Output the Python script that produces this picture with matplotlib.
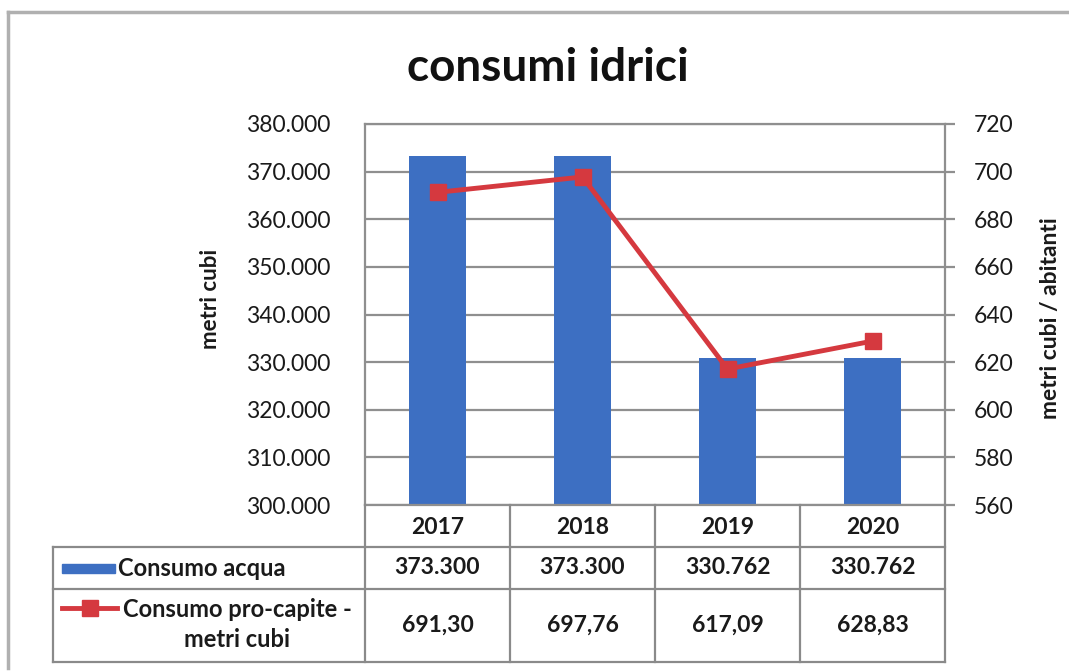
import matplotlib
matplotlib.use("Agg")
import matplotlib.pyplot as plt
from matplotlib.ticker import FuncFormatter, MultipleLocator
from matplotlib.lines import Line2D
from matplotlib.patches import Rectangle

# ---- data ----
years = ["2017", "2018", "2019", "2020"]
water = [373300, 373300, 330762, 330762]
per_capita = [691.30, 697.76, 617.09, 628.83]
water_labels = ["373.300", "373.300", "330.762", "330.762"]
per_capita_labels = ["691,30", "697,76", "617,09", "628,83"]
series_names = ["Consumo acqua", "Consumo pro-capite -\nmetri cubi"]
title = "consumi idrici"
ylabel_left = "metri cubi"
ylabel_right = "metri cubi / abitanti"

BLUE = "#3D6FC2"
RED = "#D5393F"
GRID = "#8f8f8f"
TXT = "#1a1a1a"
FONT = "Lato"

W, H = 1069, 672
fig = plt.figure(figsize=(W / 100, H / 100), dpi=100)
fig.patch.set_facecolor("white")


def fx(px):
    return px / W


def fy(py):
    return 1 - py / H


# outer frame (top + left)
fig.add_artist(Line2D([fx(8), fx(8)], [fy(12), fy(668)], transform=fig.transFigure,
                      color="#b0b0b0", lw=2.5))
fig.add_artist(Line2D([fx(8), fx(1069)], [fy(12), fy(12)], transform=fig.transFigure,
                      color="#b0b0b0", lw=2.5))

ax = fig.add_axes([fx(365), fy(505), fx(945) - fx(365), fy(124) - fy(505)])
x = list(range(len(years)))
ax.bar(x, water, width=0.39, color=BLUE, zorder=2)
ax.set_xlim(-0.5, len(years) - 0.5)
ax.set_ylim(300000, 380000)
ax.yaxis.set_major_locator(MultipleLocator(10000))
ax.yaxis.set_major_formatter(FuncFormatter(lambda v, p: f"{int(round(v)):,}".replace(",", ".")))
ax.grid(axis="y", color=GRID, lw=1.6, zorder=0)
ax.set_axisbelow(True)
ax.set_xticks([])
ax.tick_params(axis="y", length=0, pad=25, labelsize=16.5, labelcolor=TXT)
for lab in ax.get_yticklabels():
    lab.set_fontfamily(FONT)
for s in ax.spines.values():
    s.set_color(GRID)
    s.set_linewidth(1.6)
ax.set_ylabel(ylabel_left, fontsize=16, fontweight="bold", family=FONT, color=TXT)
ax.yaxis.set_label_coords((221 - 365) / (945 - 365), 0.54)

ax2 = ax.twinx()
ax2.plot(x, per_capita, color=RED, lw=3.5, marker="s", ms=11, zorder=3)
ax2.set_ylim(560, 720)
ax2.yaxis.set_major_locator(MultipleLocator(20))
ax2.tick_params(axis="y", direction="out", length=7, width=1.6, color=GRID, pad=14,
                labelsize=16.5, labelcolor=TXT)
for lab in ax2.get_yticklabels():
    lab.set_fontfamily(FONT)
for s in ax2.spines.values():
    s.set_visible(False)
ax2.set_ylabel(ylabel_right, fontsize=16.5, fontweight="bold", family=FONT, color=TXT,
               rotation=90)
ax2.yaxis.set_label_coords((1040 - 365) / (945 - 365), 0.49)

fig.text(fx(548), fy(68), title, ha="center", va="center", fontsize=33,
         fontweight="bold", family=FONT, color="#111111")

# ---- data table ----
fig.canvas.draw()
to_fig = (ax.transData + fig.transFigure.inverted())
bounds = [to_fig.transform((xi - 0.5, 300000))[0] for xi in x] + \
         [to_fig.transform((x[-1] + 0.5, 300000))[0]]
centers = [to_fig.transform((xi, 300000))[0] for xi in x]
row_y = [fy(505), fy(547), fy(589), fy(662)]
left_x = fx(53)
lw_tab = 1.6
col = "#8a8a8a"

def hline(x0, x1, y):
    fig.add_artist(Line2D([x0, x1], [y, y], transform=fig.transFigure, color=col, lw=lw_tab))

def vline(xv, y0, y1):
    fig.add_artist(Line2D([xv, xv], [y0, y1], transform=fig.transFigure, color=col, lw=lw_tab))

hline(left_x, bounds[-1], row_y[1])
hline(left_x, bounds[-1], row_y[2])
hline(left_x, bounds[-1], row_y[3])
for b in bounds:
    vline(b, row_y[0], row_y[3])
vline(left_x, row_y[1], row_y[3])

cell_kw = dict(ha="center", va="center", fontsize=16.5, fontweight="bold", family=FONT, color=TXT)
for i in x:
    fig.text(centers[i], (row_y[0] + row_y[1]) / 2 - 1 / H, years[i], **cell_kw)
    fig.text(centers[i], (row_y[1] + row_y[2]) / 2, water_labels[i], **cell_kw)
    fig.text(centers[i], (row_y[2] + row_y[3]) / 2, per_capita_labels[i], **cell_kw)

# legend keys + row labels
ym1 = (row_y[1] + row_y[2]) / 2
fig.add_artist(Rectangle((fx(62), ym1 - 4.5 / H), fx(115) - fx(62), 9 / H,
                         transform=fig.transFigure, color=BLUE))
fig.text(fx(118), ym1, series_names[0], ha="left", va="center", fontsize=17,
         fontweight="bold", family=FONT, color=TXT)

yk2 = fy(608)
fig.add_artist(Line2D([fx(62), fx(117)], [yk2, yk2], transform=fig.transFigure,
                      color=RED, lw=3.5, marker=None))
fig.add_artist(Line2D([fx(89.5)], [yk2], transform=fig.transFigure,
                      color=RED, marker="s", ms=11, lw=0))
fig.text(fx(237), (row_y[2] + row_y[3]) / 2 + 1 / H, series_names[1], ha="center", va="center",
         fontsize=17, fontweight="bold", family=FONT, color=TXT, linespacing=1.35)

fig.savefig("out.png", dpi=100, facecolor="white")
